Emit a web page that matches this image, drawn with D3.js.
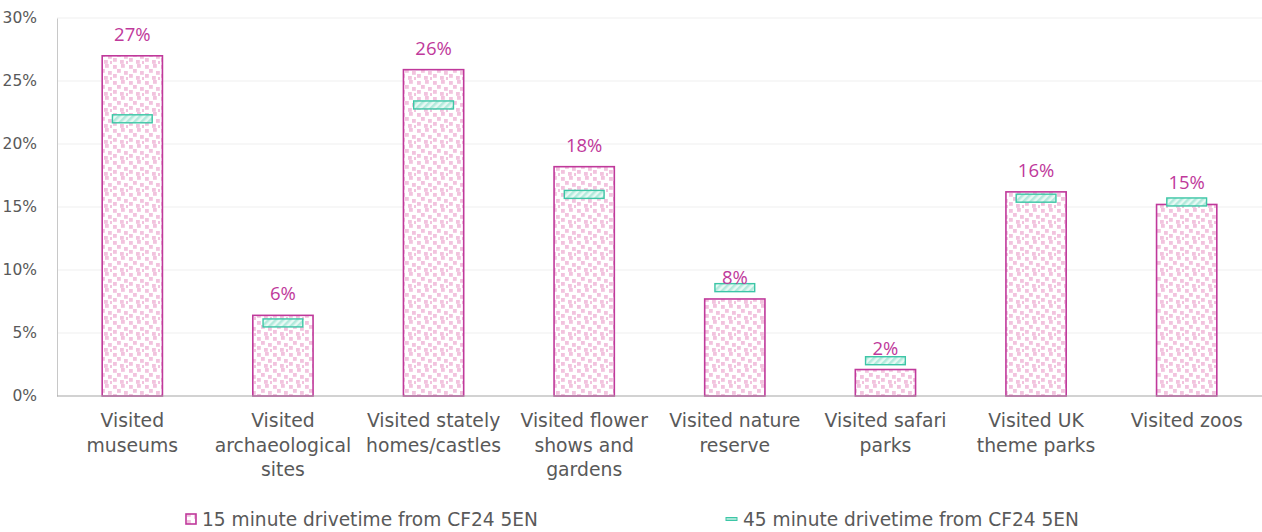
<!DOCTYPE html>
<html>
<head>
<meta charset="utf-8">
<script src="https://cdn.jsdelivr.net/npm/d3@7"></script>
<style>
  body { margin: 0; background: #fff; }
  svg { display: block; }
  .tick text { fill: #595959; }
</style>
</head>
<body>
<div id="chartDiv"></div>
<script>
// chart values
const categories = [
  ["Visited", "museums"],
  ["Visited", "archaeological", "sites"],
  ["Visited stately", "homes/castles"],
  ["Visited flower", "shows and", "gardens"],
  ["Visited nature", "reserve"],
  ["Visited safari", "parks"],
  ["Visited UK", "theme parks"],
  ["Visited zoos"]
];
const drive15 = [27.0, 6.4, 25.9, 18.2, 7.7, 2.1, 16.2, 15.2];
const drive45 = [22.0, 5.8, 23.1, 16.0, 8.6, 2.8, 15.7, 15.4];
const yTicks = [0, 5, 10, 15, 20, 25, 30];
const seriesNames = ["15 minute drivetime from CF24 5EN", "45 minute drivetime from CF24 5EN"];

const W = 1262, H = 532;
const margin = { left: 57, right: 0, top: 18, bottom: 136 };
const pink = "#c0399b", teal = "#3cc6a6";
const axisFont = "'DejaVu Sans', sans-serif";

const svg = d3.select("#chartDiv").append("svg")
  .attr("width", W).attr("height", H);

const defs = svg.append("defs");

// confetti pattern for the pink bars
const dots = defs.append("pattern")
  .attr("id", "dots").attr("patternUnits", "userSpaceOnUse")
  .attr("width", 16).attr("height", 16);
dots.append("rect").attr("width", 16).attr("height", 16).attr("fill", "#fff");
[[1, 1], [9, 0], [5, 5], [12, 7], [1, 10], [8, 12], [14, 13]].forEach(p => {
  dots.append("rect").attr("x", p[0]).attr("y", p[1])
    .attr("width", 3.8).attr("height", 3.8).attr("fill", "#f2c3de");
});

// diagonal hatch for the teal markers
const hatch = defs.append("pattern")
  .attr("id", "hatch").attr("patternUnits", "userSpaceOnUse")
  .attr("width", 5).attr("height", 5)
  .attr("patternTransform", "rotate(45)");
hatch.append("rect").attr("width", 5).attr("height", 5).attr("fill", "#e8f9f4");
hatch.append("rect").attr("width", 2.5).attr("height", 5).attr("fill", "#b2eadc");

const x = d3.scaleBand()
  .domain(d3.range(categories.length))
  .range([margin.left, W - margin.right])
  .paddingInner(0.6).paddingOuter(0.3);

const y = d3.scaleLinear()
  .domain([0, 30])
  .range([H - margin.bottom, margin.top]);

// gridlines
svg.append("g")
  .selectAll("line")
  .data(yTicks.filter(d => d > 0))
  .join("line")
  .attr("x1", margin.left).attr("x2", W)
  .attr("y1", d => y(d)).attr("y2", d => y(d))
  .attr("stroke", "#efefef").attr("stroke-width", 1);

// y axis
const yAxis = svg.append("g")
  .attr("transform", `translate(${margin.left},0)`)
  .call(d3.axisLeft(y).tickValues(yTicks).tickFormat(d => d + "%").tickSize(0).tickPadding(20));
yAxis.select(".domain").attr("stroke", "#c8c8c8");
yAxis.selectAll("text").style("font-family", axisFont).style("font-size", "15.5px");

// bars
svg.append("g")
  .selectAll("rect")
  .data(drive15)
  .join("rect")
  .attr("x", (d, i) => x(i))
  .attr("y", d => y(d))
  .attr("width", x.bandwidth())
  .attr("height", d => y(0) - y(d))
  .attr("fill", "url(#dots)")
  .attr("stroke", pink).attr("stroke-width", 1.6);

// 45 minute markers
const markW = x.bandwidth() * 0.66, markH = 8;
svg.append("g")
  .selectAll("rect")
  .data(drive45)
  .join("rect")
  .attr("x", (d, i) => x(i) + (x.bandwidth() - markW) / 2)
  .attr("y", d => y(d) - markH / 2)
  .attr("width", markW).attr("height", markH)
  .attr("fill", "url(#hatch)")
  .attr("stroke", teal).attr("stroke-width", 1.4);

// data labels
svg.append("g")
  .selectAll("text")
  .data(drive15)
  .join("text")
  .attr("x", (d, i) => x(i) + x.bandwidth() / 2)
  .attr("y", d => y(d) - 15)
  .attr("text-anchor", "middle")
  .attr("fill", pink)
  .style("font-family", "'Open Sans', sans-serif")
  .style("font-size", "18.5px")
  .text(d => Math.round(d) + "%");

// x axis
const xAxis = svg.append("g")
  .attr("transform", `translate(0,${y(0)})`)
  .call(d3.axisBottom(x).tickSize(0).tickFormat(""));
xAxis.select(".domain").attr("stroke", "#a6a6a6").attr("stroke-width", 1.2)
  .attr("d", `M${margin.left},0H${W}`);

xAxis.selectAll(".tick text").remove();
xAxis.selectAll(".tick").append("text")
  .attr("text-anchor", "middle")
  .attr("fill", "#595959")
  .style("font-family", axisFont)
  .style("font-size", "18.8px")
  .selectAll("tspan")
  .data(i => categories[i])
  .join("tspan")
  .attr("x", 0)
  .attr("y", (d, j) => 31 + j * 24.5)
  .text(d => d);

// legend
const legend = svg.append("g").attr("transform", `translate(0,${H - 13})`);
const leg1 = legend.append("g").attr("transform", "translate(186,0)");
leg1.append("rect").attr("x", 0).attr("y", -5).attr("width", 10).attr("height", 10)
  .attr("fill", "url(#dots)").attr("stroke", pink).attr("stroke-width", 1.6);
leg1.append("text").attr("x", 16).attr("y", 6.5)
  .attr("fill", "#595959").style("font-family", axisFont).style("font-size", "18.6px")
  .text(seriesNames[0]);

const leg2 = legend.append("g").attr("transform", "translate(726,0)");
leg2.append("rect").attr("x", 0).attr("y", -1.5).attr("width", 11).attr("height", 3)
  .attr("fill", "#a5e6d6").attr("stroke", teal).attr("stroke-width", 1);
leg2.append("text").attr("x", 17).attr("y", 6.5)
  .attr("fill", "#595959").style("font-family", axisFont).style("font-size", "18.6px")
  .text(seriesNames[1]);
</script>
</body>
</html>
